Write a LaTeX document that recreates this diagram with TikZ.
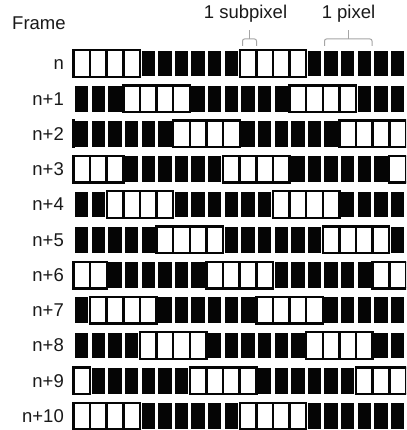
\documentclass[tikz,border=0pt]{standalone}
\usepackage{fontspec}
\setmainfont{Liberation Sans}
\usepackage{xcolor}
\usetikzlibrary{positioning}
\definecolor{cellblack}{RGB}{5,5,5}
\definecolor{bracegray}{RGB}{165,165,165}
\definecolor{labelgray}{RGB}{25,25,25}

\begin{document}
\begin{tikzpicture}[
  x=1pt, y=-1pt,
  blackcell/.style={fill=cellblack},
  whitegroup/.style={draw=cellblack, fill=white, line width=2.4pt},
  divider/.style={draw=cellblack, line width=2.5pt},
  bracket/.style={draw=bracegray, line width=1pt, rounded corners=2pt},
  rowlabel/.style={anchor=base east, inner sep=0pt, text=labelgray},
  every node/.style={font=\fontsize{18.5}{20}\selectfont}
]
  \useasboundingbox (0,0) rectangle (406,430);

  \node[anchor=base west, inner sep=0pt, text=labelgray] (frame) at (12,30) {Frame};
  \node[anchor=base, inner sep=0pt, text=labelgray] (subtxt) at (245.5,19) {1 subpixel};
  \node[anchor=base, inner sep=0pt, text=labelgray] (pixtxt) at (348.5,19) {1 pixel};

  % braces over one subpixel and one pixel (3 subpixels)
  \draw[bracket] (242.5,46) -- (242.5,39) -- (256.5,39) -- (256.5,46);
  \draw[bracket] (249.5,39) -- (249.5,30);
  \draw[bracket] (324.5,46) -- (324.5,39) -- (372,39) -- (372,46);
  \draw[bracket] (348.5,39) -- (348.5,30);

  % each frame: 4 lit subpixels, shifted by 3 subpixels per frame
  \foreach \k/\lbl in {0/n, 1/n+1, 2/n+2, 3/n+3, 4/n+4, 5/n+5, 6/n+6, 7/n+7, 8/n+8, 9/n+9, 10/n+10} {
    \pgfmathsetmacro\yc{63.5+35.25*\k}
    \pgfmathtruncatemacro\off{mod(3*\k,10)}
    \node[rowlabel] (lbl\k) at (64,\yc+6.4) {\lbl};
    \begin{scope}
      \clip (72.2,0) rectangle (406,430);
      \foreach \i in {0,...,19}
        \fill[blackcell] (73.5+16.62*\i+1.65,\yc-12.8) rectangle ++(13.3,25.6);
      \foreach \g in {-10,0,10} {
        \pgfmathsetmacro\xa{73.5+16.62*(\off+\g)}
        \draw[whitegroup] (\xa,\yc-13.3) rectangle ++(4*16.62,26.6);
        \foreach \j in {1,2,3}
          \draw[divider] (\xa+16.62*\j,\yc-13.3) -- ++(0,26.6);
      }
    \end{scope}
  }
\end{tikzpicture}
\end{document}
